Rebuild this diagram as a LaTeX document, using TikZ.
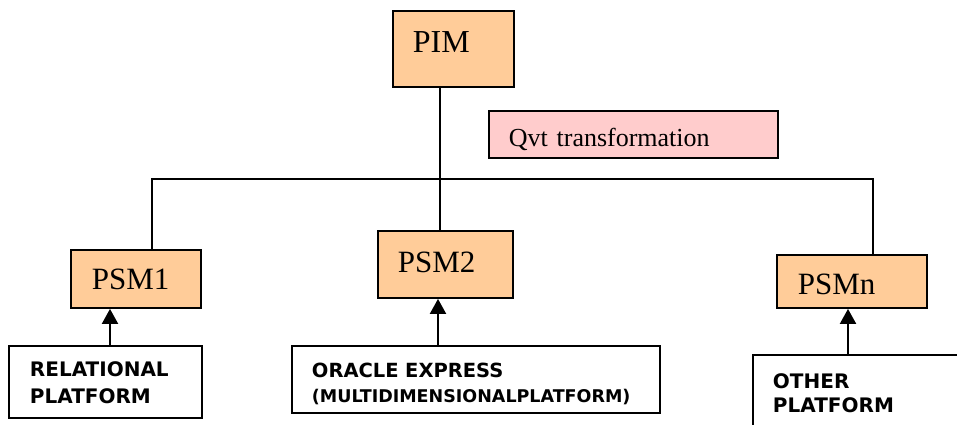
\documentclass[tikz,border=0pt]{standalone}
\usepackage{fontspec}
\setmainfont{Liberation Serif}
\newfontfamily\platfont{DejaVu Sans}
\usetikzlibrary{arrows.meta}
\definecolor{psmorange}{HTML}{FFCC99}
\definecolor{qvtpink}{HTML}{FFCCCC}

\begin{document}
\begin{tikzpicture}[x=1pt,y=-1pt,
  model/.style={draw, line width=1.9pt, fill=psmorange, anchor=north west, align=left, inner ysep=0pt},
  platform/.style={draw, line width=1.9pt, fill=white, anchor=north west, align=left, inner ysep=0pt},
  link/.style={line width=1.7pt, line cap=rect},
  feed/.style={line width=2pt, -{Triangle[width=16pt,length=15pt]}}]
\useasboundingbox (0,0) rectangle (957,424);

\node[model, inner xsep=20pt, text width=81pt, text height=42pt, text depth=34pt, font=\fontsize{32}{38}\selectfont] (pim) at (392,10) {PIM};
\node[model, fill=qvtpink, inner xsep=20pt, text width=249pt, text height=36pt, text depth=11pt, font=\fontsize{26}{30}\selectfont] (qvt) at (488,110) {Qvt transformation};

\node[model, inner xsep=21pt, text width=88pt, text height=40pt, text depth=18pt, font=\fontsize{31}{36}\selectfont] (psm1) at (70,249) {PSM1};
\node[model, inner xsep=20pt, text width=95pt, text height=42pt, text depth=25pt, font=\fontsize{31}{36}\selectfont] (psm2) at (377,230) {PSM2};
\node[model, inner xsep=21pt, text width=108pt, text height=40pt, text depth=13pt, font=\fontsize{31}{36}\selectfont] (psmn) at (776,254) {PSMn};

\node[platform, inner xsep=21pt, text width=151pt, text height=31pt, text depth=41pt, font=\platfont\bfseries\fontsize{20}{27}\selectfont] (rel) at (8,345) {RELATIONAL\\PLATFORM};
\node[platform, inner xsep=20pt, text width=328pt, text height=32pt, text depth=35pt, font=\platfont\bfseries\fontsize{19.5}{25}\selectfont] (oracle) at (291,345) {ORACLE EXPRESS\\{\fontsize{17.5}{25}\selectfont (MULTIDIMENSIONALPLATFORM)}};
\node[platform, inner xsep=20pt, text width=222pt, text height=34pt, text depth=50pt, font=\platfont\bfseries\fontsize{20}{24}\selectfont] (other) at (752,354) {OTHER\\PLATFORM};

\coordinate (left) at (152,179);
\coordinate (trunk) at (440,179);
\coordinate (right) at (873,179);
\coordinate (up1) at (110,0);
\coordinate (up2) at (438,0);
\coordinate (upn) at (848,0);

\draw[link] (left) -- (right);
\draw[link] (pim.south -| trunk) -- (psm2.north -| trunk);
\draw[link] (left) -- (psm1.north -| left);
\draw[link] (right) -- (psmn.north -| right);

\draw[feed] (rel.north -| up1) -- (psm1.south -| up1);
\draw[feed] (oracle.north -| up2) -- (psm2.south -| up2);
\draw[feed] (other.north -| upn) -- (psmn.south -| upn);
\end{tikzpicture}
\end{document}
